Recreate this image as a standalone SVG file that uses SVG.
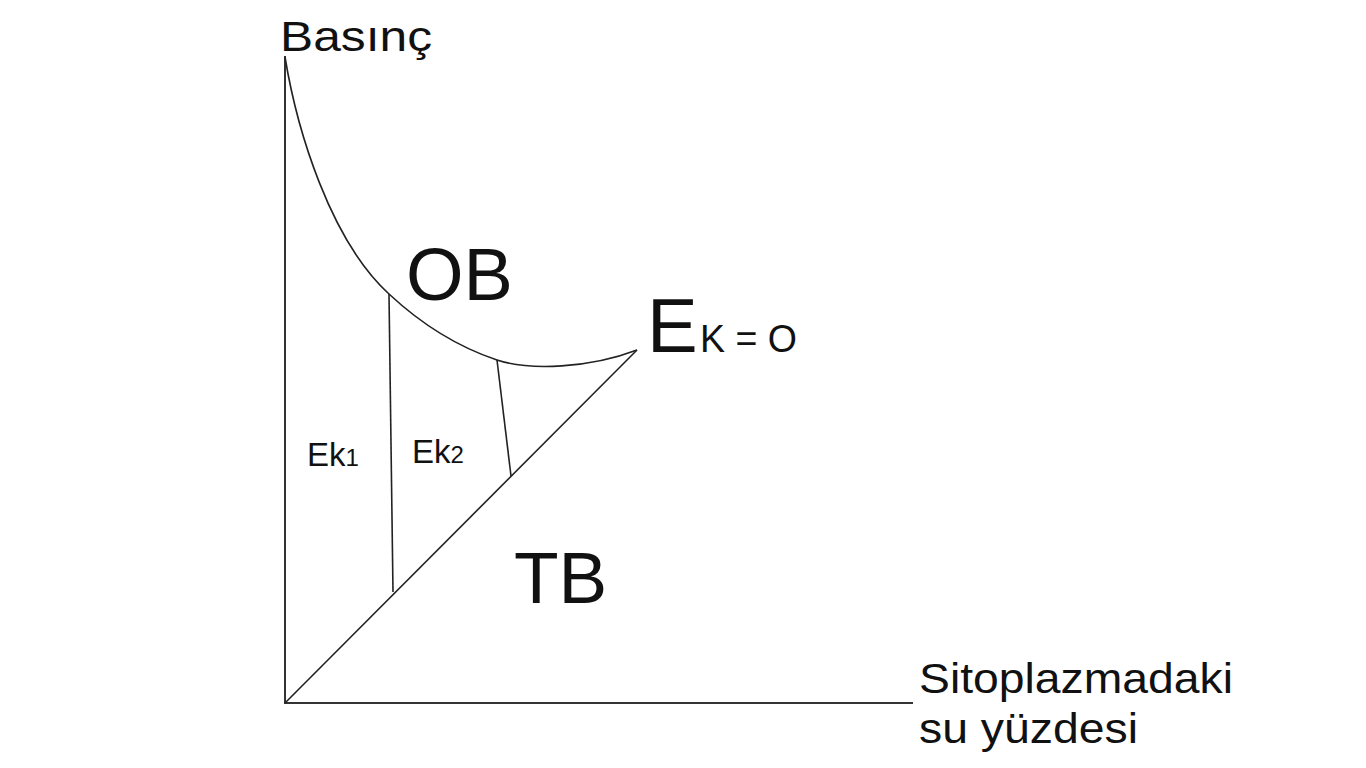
<svg xmlns="http://www.w3.org/2000/svg" width="1366" height="768" viewBox="0 0 1366 768">
<style>
.ax{stroke:#333;stroke-width:2;fill:none}
.ln{stroke:#222;stroke-width:1.6;fill:none}
.t{font-family:"Liberation Sans",Arial,sans-serif;fill:#111}
</style>
<rect width="1366" height="768" fill="#fff"/>
<g id="connectors">
<line class="ax" x1="285" y1="56" x2="285" y2="703"/>
<line class="ax" x1="284" y1="703" x2="913" y2="703"/>
<line class="ln" x1="285" y1="703" x2="637" y2="350"/>
<path class="ln" d="M285,57 C297,130 330,240 389,294 C418,321 455,346 497,360 C530,371 590,368 637,350"/>
<line class="ln" x1="389" y1="294" x2="393" y2="592"/>
<line class="ln" x1="497" y1="360" x2="511" y2="476"/>
</g>
<g id="label-basinc"><text class="t" x="280" y="51" font-size="43" textLength="152" lengthAdjust="spacingAndGlyphs">Basınç</text></g>
<g id="label-ob"><text class="t" x="406" y="300" font-size="74">OB</text></g>
<g id="label-tb"><text class="t" x="514" y="603" font-size="73">TB</text></g>
<g id="label-ek0"><text class="t" x="647" y="352" font-size="76">E</text><text class="t" x="700" y="352" font-size="38" textLength="97" lengthAdjust="spacingAndGlyphs">K = O</text></g>
<g id="label-ek1"><text class="t" x="307" y="466" font-size="33">Ek<tspan font-size="24">1</tspan></text></g>
<g id="label-ek2"><text class="t" x="412" y="463" font-size="33">Ek<tspan font-size="24">2</tspan></text></g>
<g id="label-xaxis"><text class="t" x="919" y="693" font-size="43" textLength="314" lengthAdjust="spacingAndGlyphs">Sitoplazmadaki</text><text class="t" x="919" y="743" font-size="43" textLength="219" lengthAdjust="spacingAndGlyphs">su yüzdesi</text></g>
</svg>
